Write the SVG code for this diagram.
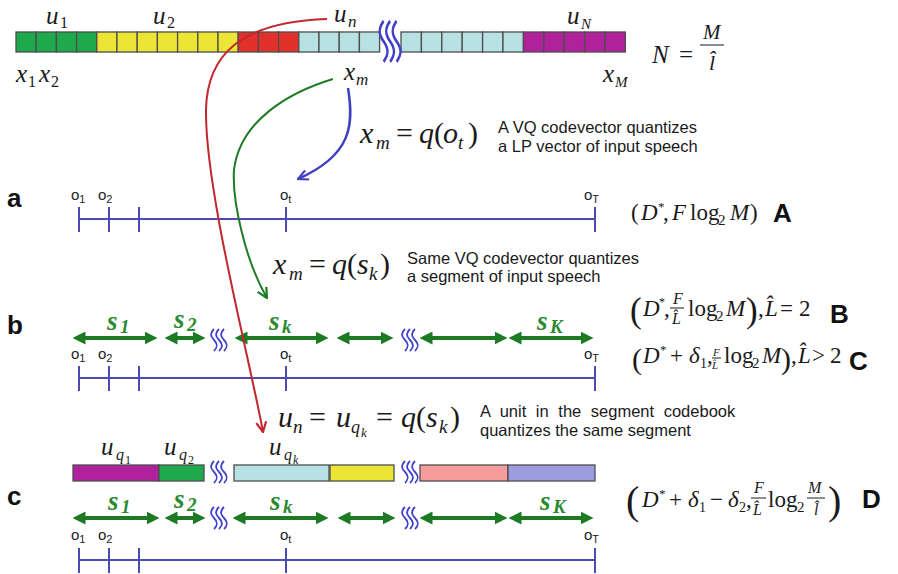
<svg xmlns="http://www.w3.org/2000/svg" width="898" height="574" viewBox="0 0 898 574">
<style>
.m{font-family:"Liberation Serif","Times New Roman",serif;fill:#1a1a1a}
.i{font-style:italic}
.t{font-family:"Liberation Sans",Arial,sans-serif;font-size:16.5px;fill:#1a1a1a}
.row{font-family:"Liberation Sans",Arial,sans-serif;font-weight:bold;font-size:26px;fill:#111}
.o{font-family:"Liberation Sans",Arial,sans-serif;font-size:15px;fill:#222}
.os{font-size:11px}
.sl{font-family:"Liberation Serif",serif;font-weight:bold;font-style:italic;fill:#2a8a2e}
.sq rect{stroke:#4d4d4d;stroke-width:1.3}
.g{fill:#1ea94c}.y{fill:#ece535}.r{fill:#e0322b}.lb{fill:#b8e1e4}.p{fill:#b1219c}.pk{fill:#f69c9c}.lv{fill:#9c9be0}
.ax{stroke:#4b4bb3;stroke-width:2;fill:none}
.squig path{fill:none;stroke:#4040c8;stroke-width:1.8}
.da{stroke:#1c7a22;stroke-width:4;fill:none;marker-start:url(#ga);marker-end:url(#ga)}
.bar{stroke:#1a1a1a;stroke-width:1}
</style>
<defs>
<marker id="ga" viewBox="0 0 12 12" refX="6" refY="6" markerWidth="13" markerHeight="13" markerUnits="userSpaceOnUse" orient="auto-start-reverse"><path d="M0,0 L12,6 L0,12 z" fill="#1c7a22"/></marker>
<marker id="ab" viewBox="0 0 12 12" refX="11" refY="6" markerWidth="12" markerHeight="12" markerUnits="userSpaceOnUse" orient="auto"><path d="M1,1 L11,6 L1,11" fill="none" stroke="#3f3fbf" stroke-width="2.2"/></marker>
<marker id="ar" viewBox="0 0 12 12" refX="11" refY="6" markerWidth="12" markerHeight="12" markerUnits="userSpaceOnUse" orient="auto"><path d="M1,1 L11,6 L1,11" fill="none" stroke="#c1272d" stroke-width="2.2"/></marker>
<marker id="agr" viewBox="0 0 12 12" refX="11" refY="6" markerWidth="12" markerHeight="12" markerUnits="userSpaceOnUse" orient="auto"><path d="M1,1 L11,6 L1,11" fill="none" stroke="#1e7b24" stroke-width="2.2"/></marker>
<g id="sqg" class="squig"><path d="M2,0 C-2,4 -2,7 2,11 C6,15 6,18 2,22"/><path d="M7,0 C3,4 3,7 7,11 C11,15 11,18 7,22"/><path d="M12,0 C8,4 8,7 12,11 C16,15 16,18 12,22"/></g>
</defs>

<!-- top codevector bar -->
<g id="codebook" class="sq">
<rect class="g" x="16" y="32" width="20.2" height="20"/><rect class="g" x="36.2" y="32" width="20.2" height="20"/><rect class="g" x="56.4" y="32" width="20.2" height="20"/><rect class="g" x="76.6" y="32" width="20.2" height="20"/>
<rect class="y" x="96.8" y="32" width="20.2" height="20"/><rect class="y" x="117" y="32" width="20.2" height="20"/><rect class="y" x="137.2" y="32" width="20.2" height="20"/><rect class="y" x="157.4" y="32" width="20.2" height="20"/><rect class="y" x="177.6" y="32" width="20.2" height="20"/><rect class="y" x="197.8" y="32" width="20.2" height="20"/><rect class="y" x="218" y="32" width="20.2" height="20"/>
<rect class="r" x="238.2" y="32" width="20.2" height="20"/><rect class="r" x="258.4" y="32" width="20.2" height="20"/><rect class="r" x="278.6" y="32" width="20.2" height="20"/>
<rect class="lb" x="298.8" y="32" width="20.2" height="20"/><rect class="lb" x="319" y="32" width="20.2" height="20"/><rect class="lb" x="339.2" y="32" width="20.2" height="20"/><rect class="lb" x="359.4" y="32" width="20.2" height="20"/>
<rect class="lb" x="401" y="32" width="20.4" height="20"/><rect class="lb" x="421.4" y="32" width="20.4" height="20"/><rect class="lb" x="441.8" y="32" width="20.4" height="20"/><rect class="lb" x="462.2" y="32" width="20.4" height="20"/><rect class="lb" x="482.6" y="32" width="20.4" height="20"/><rect class="lb" x="503" y="32" width="20.4" height="20"/>
<rect class="p" x="523.4" y="32" width="20.4" height="20"/><rect class="p" x="543.8" y="32" width="20.4" height="20"/><rect class="p" x="564.2" y="32" width="20.4" height="20"/><rect class="p" x="584.6" y="32" width="20.4" height="20"/><rect class="p" x="605" y="32" width="20.4" height="20"/>
<use href="#sqg" transform="translate(381,21) scale(1.3,1.85)"/>
</g>
<g id="top-labels">
<text class="m"><tspan class="i" x="46" y="24" font-size="25">u</tspan><tspan x="60" y="28" font-size="16">1</tspan></text>
<text class="m"><tspan class="i" x="153" y="24" font-size="25">u</tspan><tspan x="167" y="28" font-size="16">2</tspan></text>
<text class="m"><tspan class="i" x="334" y="22" font-size="25">u</tspan><tspan class="i" x="348" y="27" font-size="17">n</tspan></text>
<text class="m"><tspan class="i" x="567" y="24" font-size="25">u</tspan><tspan class="i" x="581" y="29" font-size="15">N</tspan></text>
<text class="m"><tspan class="i" x="16" y="82" font-size="25">x</tspan><tspan x="28" y="87" font-size="16">1</tspan><tspan class="i" x="39" y="82" font-size="25">x</tspan><tspan x="51" y="87" font-size="16">2</tspan></text>
<text class="m"><tspan class="i" x="344" y="80" font-size="25">x</tspan><tspan class="i" x="356" y="85" font-size="17">m</tspan></text>
<text class="m"><tspan class="i" x="603" y="82" font-size="25">x</tspan><tspan class="i" x="615" y="87" font-size="15">M</tspan></text>
<text class="m"><tspan class="i" x="652" y="63" font-size="25">N</tspan><tspan x="679" y="63" font-size="25">=</tspan><tspan class="i" x="703" y="39" font-size="21">M</tspan></text>
<text class="m i" x="709" y="70" font-size="22">l&#x302;</text>
<line class="bar" x1="700" y1="45" x2="724" y2="45"/>
</g>

<!-- annotation formulas -->
<g id="note-1">
<text class="m" font-size="30"><tspan class="i" x="360" y="143">x</tspan><tspan class="i" x="376" y="149" font-size="19">m</tspan><tspan x="396" y="143">=</tspan><tspan class="i" x="419" y="143">q</tspan><tspan x="434" y="143">(</tspan><tspan class="i" x="443" y="143">o</tspan><tspan class="i" x="458" y="149" font-size="19">t</tspan><tspan x="468" y="143">)</tspan></text>
<text class="t" x="498" y="133">A VQ codevector quantizes</text>
<text class="t" x="498" y="152">a LP vector of input speech</text>
</g>
<g id="note-2">
<text class="m" font-size="30"><tspan class="i" x="273" y="274">x</tspan><tspan class="i" x="289" y="280" font-size="19">m</tspan><tspan x="309" y="274">=</tspan><tspan class="i" x="332" y="274">q</tspan><tspan x="347" y="274">(</tspan><tspan class="i" x="357" y="274">s</tspan><tspan class="i" x="369" y="280" font-size="19">k</tspan><tspan x="380" y="274">)</tspan></text>
<text class="t" x="407" y="264">Same VQ codevector quantizes</text>
<text class="t" x="407" y="282">a segment of input speech</text>
</g>
<g id="note-3">
<text class="m" font-size="30"><tspan class="i" x="278" y="427">u</tspan><tspan class="i" x="293" y="433" font-size="19">n</tspan><tspan x="309" y="427">=</tspan><tspan class="i" x="336" y="427">u</tspan><tspan class="i" x="351" y="433" font-size="18">q</tspan><tspan class="i" x="361" y="437" font-size="13">k</tspan><tspan x="376" y="427">=</tspan><tspan class="i" x="401" y="427">q</tspan><tspan x="416" y="427">(</tspan><tspan class="i" x="426" y="427">s</tspan><tspan class="i" x="439" y="433" font-size="19">k</tspan><tspan x="450" y="427">)</tspan></text>
<text class="t" x="480" y="417" word-spacing="5">A unit in the segment codebook</text>
<text class="t" x="480" y="436">quantizes the same segment</text>
</g>

<!-- row a -->
<g id="row-a">
<text class="row" x="7" y="207">a</text>
<path class="ax" d="M79,219 H595 M79,207 V232 M109,207 V232 M139,207 V232 M286,207 V232 M595,207 V232"/>
<text class="o" x="71" y="200">o<tspan class="os" dy="3">1</tspan></text>
<text class="o" x="98" y="200">o<tspan class="os" dy="3">2</tspan></text>
<text class="o" x="280" y="200">o<tspan class="os" dy="3">t</tspan></text>
<text class="o" x="584" y="200">o<tspan class="os" dy="3">T</tspan></text>
<text class="m" font-size="23"><tspan x="631" y="220">(</tspan><tspan class="i" x="641" y="220">D</tspan><tspan x="658" y="211" font-size="13">*</tspan><tspan x="663" y="220">,</tspan><tspan class="i" x="672" y="220">F</tspan><tspan x="690" y="220">log</tspan><tspan x="718" y="225" font-size="15">2</tspan><tspan class="i" x="730" y="220">M</tspan><tspan x="750" y="220">)</tspan></text>
<text class="row" x="773" y="222">A</text>
</g>

<!-- row b -->
<g id="row-b">
<text class="row" x="7" y="334">b</text>
<path class="da" d="M79,338 H151"/><path class="da" d="M171,338 H199"/><path class="da" d="M241,338 H322"/><path class="da" d="M343,338 H387"/><path class="da" d="M426,338 H501"/><path class="da" d="M515,338 H587"/>
<use href="#sqg" x="212" y="329"/><use href="#sqg" x="403" y="329"/>
<text class="sl"><tspan x="107" y="330" font-size="27">s</tspan><tspan x="120" y="333" font-size="19">1</tspan></text>
<text class="sl"><tspan x="174" y="328" font-size="27">s</tspan><tspan x="187" y="331" font-size="19">2</tspan></text>
<text class="sl"><tspan x="269" y="330" font-size="27">s</tspan><tspan x="282" y="333" font-size="19">k</tspan></text>
<text class="sl"><tspan x="537" y="330" font-size="27">s</tspan><tspan x="550" y="333" font-size="19">K</tspan></text>
<path class="ax" d="M79,378 H595 M79,366 V391 M109,366 V391 M139,366 V391 M286,366 V391 M595,366 V391"/>
<text class="o" x="71" y="359">o<tspan class="os" dy="3">1</tspan></text>
<text class="o" x="98" y="359">o<tspan class="os" dy="3">2</tspan></text>
<text class="o" x="280" y="359">o<tspan class="os" dy="3">t</tspan></text>
<text class="o" x="584" y="359">o<tspan class="os" dy="3">T</tspan></text>
<text class="m" font-size="23"><tspan x="630" y="322" font-size="35">(</tspan><tspan class="i" x="643" y="316">D</tspan><tspan x="659" y="306" font-size="12">*</tspan><tspan x="664" y="316">,</tspan><tspan x="688" y="316">log</tspan><tspan x="716" y="321" font-size="15">2</tspan><tspan class="i" x="726" y="316">M</tspan><tspan x="746" y="322" font-size="35">)</tspan><tspan x="758" y="316">,</tspan><tspan class="i" x="765" y="316">L&#x302;</tspan><tspan x="780" y="316">=</tspan><tspan x="799" y="316">2</tspan></text>
<text class="m i" x="673" y="304" font-size="16">F</text>
<text class="m i" x="672" y="324" font-size="16">L&#x302;</text>
<line class="bar" x1="670" y1="308" x2="684" y2="308"/>
<text class="row" x="830" y="323">B</text>
<text class="m" font-size="23"><tspan x="632" y="369" font-size="30">(</tspan><tspan class="i" x="643" y="363">D</tspan><tspan x="660" y="354" font-size="13">*</tspan><tspan x="670" y="363">+</tspan><tspan class="i" x="689" y="363">δ</tspan><tspan x="700" y="368" font-size="14">1</tspan><tspan x="707" y="363">,</tspan><tspan x="724" y="363">log</tspan><tspan x="752" y="368" font-size="15">2</tspan><tspan class="i" x="762" y="363">M</tspan><tspan x="781" y="369" font-size="30">)</tspan><tspan x="791" y="363">,</tspan><tspan class="i" x="798" y="363">L&#x302;</tspan><tspan x="812" y="363">&gt;</tspan><tspan x="830" y="363">2</tspan></text>
<text class="m i" x="713" y="356" font-size="11">F</text>
<text class="m i" x="712" y="369" font-size="11">L&#x302;</text>
<line class="bar" x1="712" y1="358" x2="721" y2="358" stroke-width="0.8"/>
<text class="row" x="849" y="370">C</text>
</g>

<!-- row c -->
<g id="row-c">
<text class="row" x="7" y="505">c</text>
<g class="sq">
<rect class="p" x="73" y="465" width="86" height="16"/><rect class="g" x="159" y="465" width="45" height="16"/>
<rect class="lb" x="234" y="465" width="95" height="16"/><rect class="y" x="330" y="465" width="64" height="16"/>
<rect class="pk" x="420" y="465" width="88" height="16"/><rect class="lv" x="508" y="465" width="87" height="16"/>
</g>
<use href="#sqg" x="212" y="461"/><use href="#sqg" x="403" y="461"/>
<text class="m"><tspan class="i" x="101" y="455" font-size="25">u</tspan><tspan class="i" x="116" y="460" font-size="16">q</tspan><tspan x="125" y="464" font-size="12">1</tspan></text>
<text class="m"><tspan class="i" x="164" y="455" font-size="25">u</tspan><tspan class="i" x="179" y="460" font-size="16">q</tspan><tspan x="188" y="464" font-size="12">2</tspan></text>
<text class="m"><tspan class="i" x="269" y="455" font-size="25">u</tspan><tspan class="i" x="284" y="460" font-size="16">q</tspan><tspan class="i" x="293" y="464" font-size="12">k</tspan></text>
<path class="da" d="M79,518 H153"/><path class="da" d="M171,518 H199"/><path class="da" d="M239,518 H322"/><path class="da" d="M344,518 H389"/><path class="da" d="M426,518 H501"/><path class="da" d="M515,518 H587"/>
<use href="#sqg" x="212" y="507"/><use href="#sqg" x="403" y="507"/>
<text class="sl"><tspan x="108" y="510" font-size="27">s</tspan><tspan x="121" y="513" font-size="19">1</tspan></text>
<text class="sl"><tspan x="174" y="508" font-size="27">s</tspan><tspan x="187" y="511" font-size="19">2</tspan></text>
<text class="sl"><tspan x="270" y="510" font-size="27">s</tspan><tspan x="283" y="513" font-size="19">k</tspan></text>
<text class="sl"><tspan x="540" y="510" font-size="27">s</tspan><tspan x="553" y="513" font-size="19">K</tspan></text>
<path class="ax" d="M79,560 H595 M79,548 V573 M109,548 V573 M139,548 V573 M286,548 V573 M595,548 V573"/>
<text class="o" x="71" y="540">o<tspan class="os" dy="3">1</tspan></text>
<text class="o" x="98" y="540">o<tspan class="os" dy="3">2</tspan></text>
<text class="o" x="280" y="540">o<tspan class="os" dy="3">t</tspan></text>
<text class="o" x="584" y="540">o<tspan class="os" dy="3">T</tspan></text>
<text class="m" font-size="23"><tspan x="626" y="514" font-size="40">(</tspan><tspan class="i" x="642" y="507">D</tspan><tspan x="659" y="498" font-size="13">*</tspan><tspan x="669" y="507">+</tspan><tspan class="i" x="688" y="507">δ</tspan><tspan x="699" y="512" font-size="14">1</tspan><tspan x="710" y="507">−</tspan><tspan class="i" x="728" y="507">δ</tspan><tspan x="739" y="512" font-size="14">2</tspan><tspan x="746" y="507">,</tspan><tspan x="768" y="507">log</tspan><tspan x="797" y="512" font-size="15">2</tspan><tspan x="828" y="514" font-size="40">)</tspan></text>
<text class="m i" x="754" y="493" font-size="16">F</text>
<text class="m i" x="753" y="515" font-size="16">L&#x302;</text>
<text class="m i" x="808" y="493" font-size="16">M</text>
<text class="m i" x="814" y="515" font-size="16">l&#x302;</text>
<line class="bar" x1="751" y1="498" x2="766" y2="498"/>
<line class="bar" x1="807" y1="498" x2="825" y2="498"/>
<text class="row" x="862" y="508">D</text>
</g>

<!-- connectors -->
<g id="connectors" fill="none">
<path d="M348,88 C354,125 352,155 298,179" stroke="#3f3fbf" stroke-width="2.5" marker-end="url(#ab)"/>
<path d="M333,79 C290,92 240,120 234,170 C232,200 245,260 267,298" stroke="#1e7b24" stroke-width="2" marker-end="url(#agr)"/>
<path d="M327,19 C240,22 207,55 206,110 C205,190 250,360 263,432" stroke="#c1272d" stroke-width="2" marker-end="url(#ar)"/>
</g>
</svg>
